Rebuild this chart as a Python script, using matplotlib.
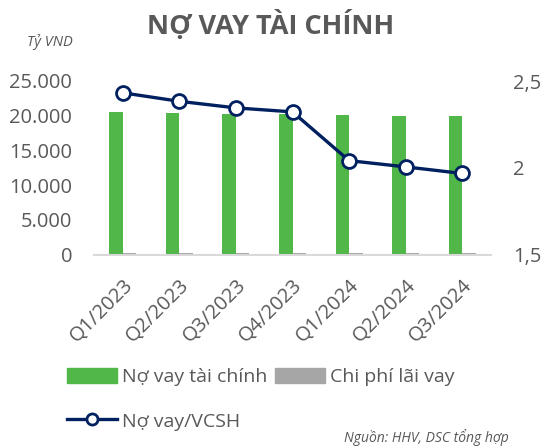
import matplotlib.pyplot as plt
import numpy as np
from matplotlib.ticker import FuncFormatter
from matplotlib.lines import Line2D
from matplotlib.patches import Patch

plt.rcParams['font.family'] = ['Open Sans', 'DejaVu Sans']

quarters = ['Q1/2023', 'Q2/2023', 'Q3/2023', 'Q4/2023', 'Q1/2024', 'Q2/2024', 'Q3/2024']
no_vay = [20550, 20380, 20280, 20240, 20150, 20020, 19900]
chi_phi_lai = [190, 200, 210, 220, 260, 250, 230]
no_vay_vcsh = [2.432, 2.383, 2.345, 2.322, 2.041, 2.005, 1.967]

green = '#50B748'
gray = '#A6A6A6'
navy = '#002060'
text_c = '#595959'

fig = plt.figure(figsize=(5.44, 4.46), dpi=100)
ax = fig.add_axes([94.4 / 544, 1 - 254.5 / 446, (490.6 - 94.4) / 544, (254.5 - 81) / 446])
ax2 = ax.twinx()

x = np.arange(len(quarters))
w = 0.24
ax.bar(x - w / 2, no_vay, width=w, color=green, zorder=2)
ax.bar(x + w / 2, chi_phi_lai, width=w, color=gray, zorder=2)
ax2.plot(x, no_vay_vcsh, color=navy, lw=2.4, marker='o', markersize=10,
         markerfacecolor='white', markeredgecolor=navy, markeredgewidth=2, zorder=3)

ax.set_xlim(-0.5, len(quarters) - 0.5)
ax.set_ylim(0, 25000)
ax.set_yticks(range(0, 25001, 5000))
ax.yaxis.set_major_formatter(FuncFormatter(lambda v, p: f'{int(v):,}'.replace(',', '.')))
ax2.set_ylim(1.5, 2.5)
ax2.set_yticks([1.5, 2, 2.5])
ax2.yaxis.set_major_formatter(FuncFormatter(lambda v, p: f'{v:g}'.replace('.', ',')))

for a in (ax, ax2):
    for s in a.spines.values():
        s.set_visible(False)
    a.tick_params(length=0, labelsize=14.5, labelcolor=text_c)
ax.spines['bottom'].set_visible(True)
ax.spines['bottom'].set_color('#D9D9D9')
ax.spines['bottom'].set_linewidth(1.5)
ax.tick_params(axis='y', pad=16)
ax2.tick_params(axis='y', pad=16)

ax.set_xticks(x)
ax.set_xticklabels(quarters, rotation=45, ha='right', rotation_mode='anchor', fontsize=14.5)
ax.tick_params(axis='x', pad=15)

fig.text(0.497, 0.943, 'NỢ VAY TÀI CHÍNH', ha='center', va='center', fontsize=19.5,
         fontweight='bold', color=text_c)
fig.text(0.05, 0.905, 'Tỷ VND', ha='left', va='center', fontsize=10.5, style='italic', color=text_c)
fig.text(0.935, 0.02, 'Nguồn: HHV, DSC tổng hợp', ha='right', va='center', fontsize=10,
         style='italic', color=text_c)

handles = [Patch(color=green, label='Nợ vay tài chính'),
           Line2D([], [], color=navy, lw=2.4, marker='o', markersize=8, markerfacecolor='white',
                  markeredgecolor=navy, markeredgewidth=2, label='Nợ vay/VCSH'),
           Patch(color=gray, label='Chi phí lãi vay')]
leg = fig.legend(handles=handles, ncol=2, loc='upper left', bbox_to_anchor=(0.123, 0.175),
                 frameon=False, fontsize=14, handlelength=2.6, handleheight=0.8,
                 handletextpad=0.25, columnspacing=0.35, labelspacing=1.35,
                 borderaxespad=0, borderpad=0)
for t in leg.get_texts():
    t.set_color(text_c)

fig.savefig('out.png', dpi=100)
